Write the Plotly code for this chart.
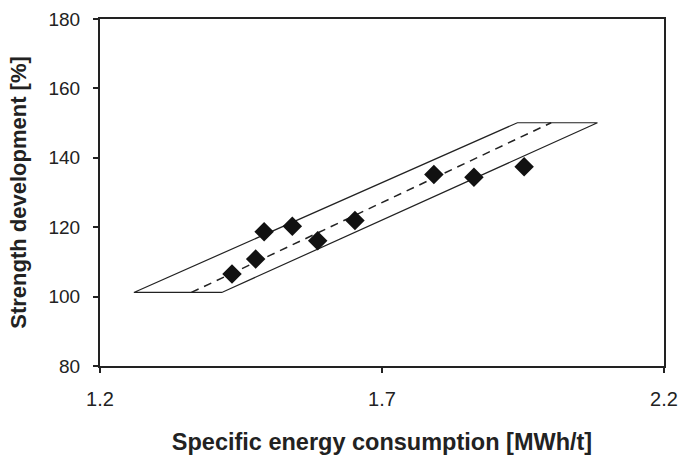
import plotly.graph_objects as go

energy = [1.434, 1.476, 1.491, 1.541, 1.586, 1.652, 1.792, 1.863, 1.952]
strength = [106.5, 110.8, 118.7, 120.3, 116.1, 121.9, 135.2, 134.4, 137.4]

band_x = [1.260, 1.416, 2.082, 1.940, 1.260]
band_y = [101.2, 101.2, 150.1, 150.1, 101.2]

trend_x = [1.362, 2.000]
trend_y = [101.2, 150.1]

fig = go.Figure()
fig.add_trace(go.Scatter(x=band_x, y=band_y, mode="lines",
                         line=dict(color="#222", width=1.2), hoverinfo="skip"))
fig.add_trace(go.Scatter(x=trend_x, y=trend_y, mode="lines",
                         line=dict(color="#222", width=1.5, dash="8px,6px"), hoverinfo="skip"))
fig.add_trace(go.Scatter(x=energy, y=strength, mode="markers",
                         marker=dict(symbol="diamond", size=15, color="#111")))

font = "Liberation Sans, Arial, sans-serif"
fig.update_layout(
    width=680, height=455, showlegend=False,
    margin=dict(l=100, r=16, t=19, b=89),
    plot_bgcolor="white", paper_bgcolor="white",
    font=dict(family=font, color="#222"),
    xaxis=dict(range=[1.2, 2.2], tickvals=[1.2, 1.7, 2.2], ticktext=["1.2", "1.7", "2.2"],
               automargin=False,
               showgrid=False, zeroline=False, showline=True, linecolor="#222", linewidth=2,
               mirror=True, ticks="outside", ticklen=5, tickwidth=1.5, tickcolor="#222",
               tickfont=dict(size=20), ticklabelstandoff=9,
               title=dict(text="<b>Specific energy consumption [MWh/t]</b>",
                          font=dict(size=23.5), standoff=25)),
    yaxis=dict(range=[80, 180], tickvals=[80, 100, 120, 140, 160, 180],
               automargin=False,
               showgrid=False, zeroline=False, showline=True, linecolor="#222", linewidth=2,
               mirror=True, ticks="outside", ticklen=5, tickwidth=1.5, tickcolor="#222",
               tickfont=dict(size=19), ticklabelstandoff=9,
               title=dict(text="<b>Strength development [%]</b>",
                          font=dict(size=22), standoff=16)),
)
fig.write_html("out.html")
